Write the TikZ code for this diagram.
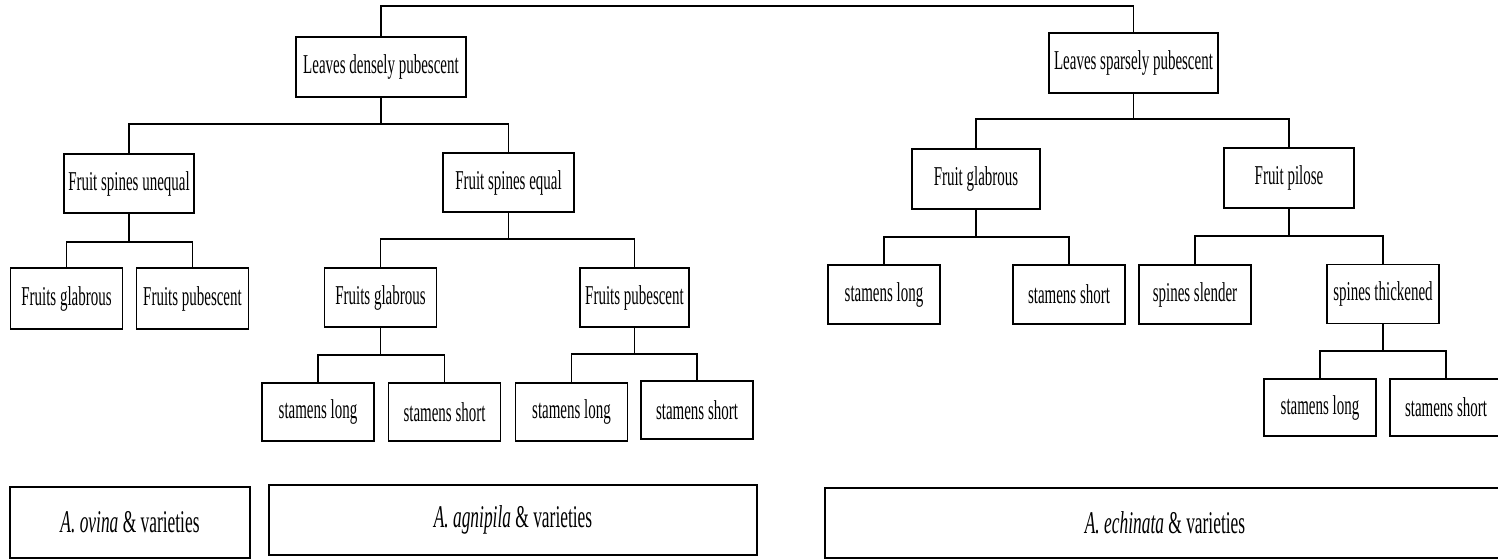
\documentclass[tikz,border=0pt]{standalone}
\usepackage{fontspec}
\setmainfont{Liberation Serif}[FakeStretch=0.55]

\begin{document}
\begin{tikzpicture}[
  x=0.02cm, y=-0.02cm,
  every node/.style={font=\fontsize{15.5}{18}\selectfont},
  box/.style={draw=black, line width=1.1pt, inner sep=2pt, align=center, minimum height=1.2cm},
  leaf/.style={box, minimum width=2.24cm},
  group/.style={box, minimum height=1.4cm, font=\fontsize{18}{21}\selectfont},
  link/.style={draw=black, line width=0.9pt},
]

\useasboundingbox (0,0) rectangle (1498,560);
\clip (0,0) rectangle (1498,560);

% first split
\node[box, minimum width=3.4cm] (ld) at (381,67) {Leaves densely pubescent};
\node[box, minimum width=3.38cm] (ls) at (1133.5,63) {Leaves sparsely pubescent};

% second split
\node[box, minimum width=2.6cm, minimum height=1.18cm] (fsu) at (129,183.5) {Fruit spines unequal};
\node[box, minimum width=2.62cm, minimum height=1.18cm] (fse) at (508.5,182.5) {Fruit spines equal};
\node[box, minimum width=2.56cm] (fg) at (976,179) {Fruit glabrous};
\node[box, minimum width=2.6cm] (fp) at (1289,178) {Fruit pilose};

% third split
\node[leaf, minimum height=1.22cm] (fsug) at (66.5,298.5) {Fruits glabrous};
\node[leaf, minimum height=1.22cm] (fsup) at (192.5,298.5) {Fruits pubescent};
\node[leaf, minimum height=1.18cm] (fseg) at (380.5,297.5) {Fruits glabrous};
\node[leaf, minimum height=1.18cm, minimum width=2.18cm] (fsep) at (634.5,297.5) {Fruits pubescent};
\node[leaf, minimum height=1.18cm] (fgl) at (884,294.5) {stamens long};
\node[leaf, minimum height=1.18cm] (fgs) at (1069,294.5) {stamens short};
\node[leaf, minimum height=1.18cm] (fpsl) at (1195,294.5) {spines slender};
\node[leaf, minimum height=1.18cm] (fpst) at (1383,294) {spines thickened};

% fourth split
\node[leaf, minimum height=1.16cm] (sl1) at (318,412) {stamens long};
\node[leaf, minimum height=1.16cm] (ss1) at (444.5,412) {stamens short};
\node[leaf, minimum height=1.16cm] (sl2) at (571.5,412) {stamens long};
\node[leaf, minimum height=1.16cm] (ss2) at (697,410) {stamens short};
\node[leaf, minimum height=1.14cm] (sl3) at (1320,407.5) {stamens long};
\node[leaf, minimum height=1.14cm] (ss3) at (1446,407.5) {stamens short};

% species groups
\node[group, minimum width=4.8cm, minimum height=1.42cm] (ovina) at (130,522.5) {\textit{A. ovina} \& varieties};
\node[group, minimum width=9.76cm] (agnipila) at (513,520) {\textit{A. agnipila} \& varieties};
\node[group, minimum width=13.6cm] (echinata) at (1165,523) {\textit{A. echinata} \& varieties};

% connectors
\draw[link] (ld.north) -- (ld.north |- 0,6) -| (ls.north);
\draw[link] (ld.south) -- (ld.south |- 0,124) (fsu.north) -- (fsu.north |- 0,124) -| (fse.north);
\draw[link] (ls.south) -- (ls.south |- 0,119) (fg.north) -- (fg.north |- 0,119) -| (fp.north);
\draw[link] (fsu.south) -- (fsu.south |- 0,242) (fsug.north) -- (fsug.north |- 0,242) -| (fsup.north);
\draw[link] (fse.south) -- (fse.south |- 0,239) (fseg.north) -- (fseg.north |- 0,239) -| (fsep.north);
\draw[link] (fg.south) -- (fg.south |- 0,237) (fgl.north) -- (fgl.north |- 0,237) -| (fgs.north);
\draw[link] (fp.south) -- (fp.south |- 0,236) (fpsl.north) -- (fpsl.north |- 0,236) -| (fpst.north);
\draw[link] (fseg.south) -- (fseg.south |- 0,355) (sl1.north) -- (sl1.north |- 0,355) -| (ss1.north);
\draw[link] (fsep.south) -- (fsep.south |- 0,354) (sl2.north) -- (sl2.north |- 0,354) -| (ss2.north);
\draw[link] (fpst.south) -- (fpst.south |- 0,351) (sl3.north) -- (sl3.north |- 0,351) -| (ss3.north);

\end{tikzpicture}
\end{document}
